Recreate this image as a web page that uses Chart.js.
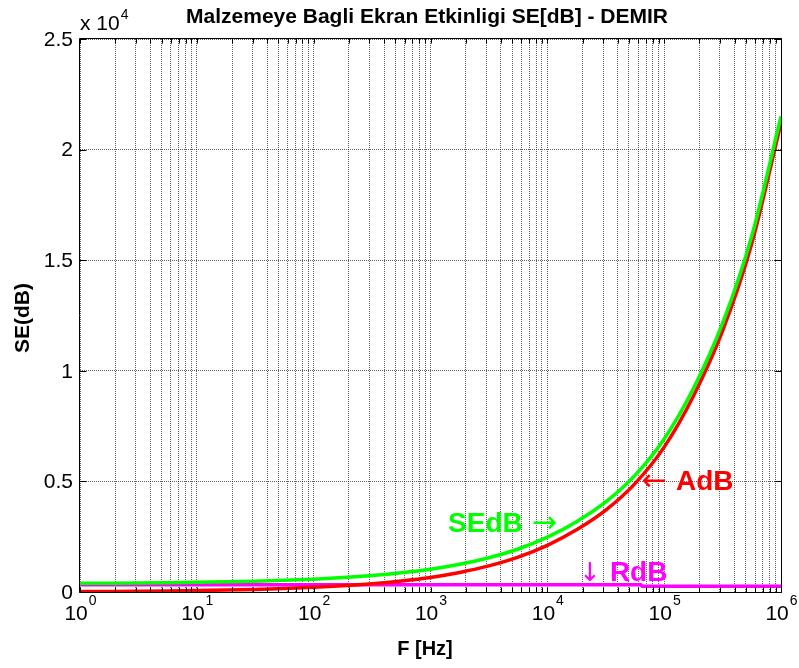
<!DOCTYPE html>
<html><head><meta charset="utf-8">
<script src="https://cdn.jsdelivr.net/npm/chart.js@4.4.1/dist/chart.umd.min.js"></script>
<style>html,body{margin:0;padding:0;background:#fff}#wrap{width:799px;height:668px}</style>
</head><body><div id="wrap"><canvas id="c" width="799" height="668"></canvas></div>
<script>
const titleText = 'Malzemeye Bagli Ekran Etkinligi SE[dB] - DEMIR';
const xTitle = 'F [Hz]';
const yTitle = 'SE(dB)';
const yExpBase = 'x 10';
const yExpPower = '4';

const freqHz = [1, 1.78, 3.16, 5.62, 10, 17.8, 31.6, 56.2, 100, 178, 316, 562, 1000, 1778, 3162, 5623, 10000, 17780, 31620, 56230, 100000, 177800, 316200, 562300, 1000000];
const seDb   = [390, 398, 407, 420, 436, 458, 488, 527, 580, 650, 743, 868, 1030, 1255, 1550, 1945, 2480, 3180, 4070, 5270, 6920, 9200, 12150, 16100, 21500];
const aDb    = [21, 28, 37, 50, 66, 88, 118, 157, 210, 280, 373, 498, 660, 885, 1180, 1575, 2110, 2810, 3700, 4900, 6550, 8850, 11800, 15750, 21200];
const rFreqHz = [1, 63000, 65000, 1000000];
const rDb     = [330, 330, 260, 260];

const yTickValues = [0, 5000, 10000, 15000, 20000, 25000];
const yTickLabels = ['0', '0.5', '1', '1.5', '2', '2.5'];
const xDecadeExps = [0, 1, 2, 3, 4, 5, 6];

const noteArrow = ['\u2192', '\u2190', '\u2193'];
const noteWord  = ['SEdB', 'AdB', 'RdB'];
const noteArrowFirst = [false, true, true];
const noteFreq  = [1415, 64400, 18700];
const noteValue = [2735, 4633, 475];
const noteColor = ['#00ff00', '#ff0000', '#ff00ff'];

const FONT = '"Liberation Sans", Arial, Helvetica, sans-serif';
const ARROWFONT = '"DejaVu Sans", sans-serif';

function pts(xs, ys) { return xs.map((x, i) => ({x: x, y: ys[i]})); }

const deco = {
  id: 'deco',
  afterDatasetsDraw(chart) {
    const ctx = chart.ctx, a = chart.chartArea;
    const xs = chart.scales.x, ys = chart.scales.y;
    ctx.save();
    ctx.strokeStyle = '#000'; ctx.lineWidth = 1; ctx.setLineDash([]);
    const L = Math.round(a.left) - 0.5, R = Math.round(a.right) + 0.5;
    const T = Math.round(a.top) - 0.5, B = Math.round(a.bottom) + 0.5;
    ctx.beginPath();
    ctx.moveTo(L, T); ctx.lineTo(R, T); ctx.lineTo(R, B); ctx.lineTo(L, B); ctx.closePath();
    ctx.stroke();
    ctx.beginPath();
    xs.ticks.forEach(t => {
      const px = Math.round(xs.getPixelForValue(t.value)) + 0.5;
      ctx.moveTo(px, B); ctx.lineTo(px, B - 5);
      ctx.moveTo(px, T); ctx.lineTo(px, T + 5);
    });
    yTickValues.forEach(v => {
      const py = Math.round(ys.getPixelForValue(v)) + 0.5;
      ctx.moveTo(L, py); ctx.lineTo(L + 7, py);
      ctx.moveTo(R, py); ctx.lineTo(R - 7, py);
    });
    ctx.stroke();

    ctx.fillStyle = '#000';
    ctx.font = '21px ' + FONT;
    ctx.textAlign = 'right'; ctx.textBaseline = 'middle';
    yTickValues.forEach((v, i) => {
      ctx.fillText(yTickLabels[i], a.left - 7, ys.getPixelForValue(v) + 1);
    });
    ctx.textBaseline = 'alphabetic'; ctx.textAlign = 'left';
    xDecadeExps.forEach(e => {
      const px = xs.getPixelForValue(Math.pow(10, e));
      ctx.font = '21px ' + FONT;
      const w1 = ctx.measureText('10').width;
      ctx.font = '14px ' + FONT;
      const w2 = ctx.measureText(String(e)).width;
      const x0 = px - (w1 + w2) / 2;
      ctx.font = '21px ' + FONT;
      ctx.fillText('10', x0, 620);
      ctx.font = '14px ' + FONT;
      ctx.fillText(String(e), x0 + w1 + 1, 605);
    });
    ctx.font = '21px ' + FONT;
    ctx.fillText(yExpBase, a.left, 30);
    const wb = ctx.measureText(yExpBase).width;
    ctx.font = '14px ' + FONT;
    ctx.fillText(yExpPower, a.left + wb + 1, 19);
    ctx.font = 'bold 21px ' + FONT;
    ctx.textAlign = 'center';
    ctx.fillText(titleText, 427, 23);
    ctx.font = 'bold 20px ' + FONT;
    ctx.fillText(xTitle, 425, 655);
    ctx.save();
    ctx.translate(23, 318);
    ctx.rotate(-Math.PI / 2);
    ctx.textBaseline = 'middle';
    ctx.font = 'bold 21px ' + FONT;
    ctx.fillText(yTitle, 0, 0);
    ctx.restore();
    ctx.textAlign = 'left'; ctx.textBaseline = 'alphabetic';
    noteWord.forEach((w, i) => {
      ctx.fillStyle = noteColor[i];
      let x = xs.getPixelForValue(noteFreq[i]);
      const y = ys.getPixelForValue(noteValue[i]);
      const arrowFont = (noteArrow[i] === '\u2193' ? '26px ' : '30px ') + ARROWFONT;
      const parts = noteArrowFirst[i] ? [[noteArrow[i], arrowFont], [w, 'bold 28px ' + FONT]]
                                      : [[w, 'bold 28px ' + FONT], [noteArrow[i], arrowFont]];
      parts.forEach((p) => {
        ctx.font = p[1];
        ctx.fillText(p[0], x, y);
        x += ctx.measureText(p[0]).width + 9;
      });
    });
    ctx.restore();
  }
};

const gridStyle = {color: 'rgba(0,0,0,0.62)', lineWidth: 1, drawTicks: false};

new Chart(document.getElementById('c'), {
  type: 'line',
  data: {
    datasets: [
      {label: 'SEdB', data: pts(freqHz, seDb), borderColor: '#00ff00', borderWidth: 3.5, pointRadius: 0, cubicInterpolationMode: 'monotone'},
      {label: 'AdB', data: pts(freqHz, aDb), borderColor: '#ff0000', borderWidth: 3.5, pointRadius: 0, cubicInterpolationMode: 'monotone'},
      {label: 'RdB', data: pts(rFreqHz, rDb), borderColor: '#ff00ff', borderWidth: 3.5, pointRadius: 0, tension: 0}
    ]
  },
  options: {
    responsive: false,
    animation: false,
    devicePixelRatio: 1,
    layout: {padding: {left: 80, right: 18, top: 39, bottom: 76}},
    plugins: {legend: {display: false}, tooltip: {enabled: false}, title: {display: false}},
    scales: {
      x: {
        type: 'logarithmic', min: 1, max: 1000000,
        ticks: {display: false},
        grid: gridStyle,
        border: {display: false, dash: [1, 1]},
        afterBuildTicks: (s) => {
          const t = [];
          for (let d = 0; d < 6; d++) for (let k = 1; k <= 9; k++) t.push({value: k * Math.pow(10, d)});
          t.push({value: 1000000});
          s.ticks = t;
        },
        afterFit: (s) => { s.height = 0; }
      },
      y: {
        type: 'linear', min: 0, max: 25000,
        ticks: {display: false, stepSize: 5000},
        grid: gridStyle,
        border: {display: false, dash: [1, 1]},
        afterBuildTicks: (s) => { s.ticks = yTickValues.map(v => ({value: v})); },
        afterFit: (s) => { s.width = 0; }
      }
    }
  },
  plugins: [deco]
});
</script>
</body></html>
